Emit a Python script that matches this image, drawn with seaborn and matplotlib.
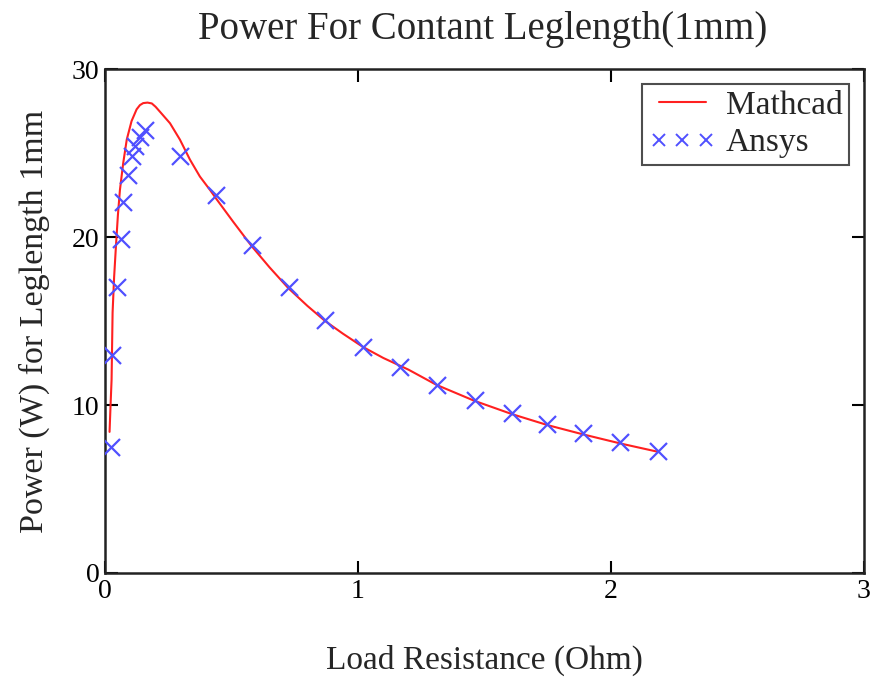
import matplotlib
matplotlib.use("Agg")
import matplotlib.pyplot as plt
import seaborn as sns
import pandas as pd
from matplotlib.lines import Line2D

# Mathcad curve
mathcad_r = [0.018, 0.022, 0.026, 0.030, 0.036, 0.043, 0.051, 0.059, 0.072, 0.086, 0.105,
             0.125, 0.138, 0.151, 0.168, 0.185, 0.200, 0.217, 0.257, 0.296, 0.336, 0.375,
             0.415, 0.441, 0.507, 0.580, 0.650, 0.725, 0.800, 0.870, 0.940, 1.02, 1.1,
             1.2, 1.31, 1.46, 1.61, 1.75, 1.89, 2.04, 2.19]
mathcad_p = [8.4, 10.0, 11.5, 15.5, 17.6, 19.4, 21.3, 22.8, 24.4, 25.8, 26.9,
             27.6, 27.85, 27.97, 28.0, 27.95, 27.75, 27.46, 26.77, 25.8, 24.6, 23.6,
             22.8, 22.25, 20.9, 19.45, 18.2, 16.95, 15.9, 15.0, 14.25, 13.45, 12.8,
             12.1, 11.2, 10.25, 9.45, 8.8, 8.25, 7.7, 7.2]

# Ansys points
ansys_r = [0.022, 0.026, 0.046, 0.062, 0.070, 0.092, 0.105, 0.119, 0.138, 0.158,
           0.296, 0.439, 0.581, 0.727, 0.870, 1.021, 1.166, 1.311, 1.462, 1.607,
           1.746, 1.891, 2.036, 2.187]
ansys_p = [7.52, 12.97, 17.0, 19.86, 22.1, 23.7, 24.8, 25.4, 25.97, 26.37,
           24.8, 22.5, 19.5, 17.0, 15.06, 13.47, 12.24, 11.19, 10.3, 9.5,
           8.87, 8.32, 7.82, 7.28]

x_ticks = [0, 1, 2, 3]
y_ticks = [0, 10, 20, 30]

title = "Power For Contant Leglength(1mm)"
xlabel = "Load Resistance (Ohm)"
ylabel = "Power (W) for Leglength 1mm"

sns.set_theme(style="ticks")
plt.rcParams['font.family'] = ['Liberation Serif', 'DejaVu Serif']

fig = plt.figure(figsize=(8.78, 6.84), dpi=100)
ax = fig.add_axes([105/878, 1 - 573/684, (864-105)/878, (573-69)/684])

df_m = pd.DataFrame({"R": mathcad_r, "P": mathcad_p})
df_a = pd.DataFrame({"R": ansys_r, "P": ansys_p})

sns.lineplot(data=df_m, x="R", y="P", ax=ax, color="#ff2020", linewidth=1.5,
             sort=False, estimator=None)
sns.scatterplot(data=df_a, x="R", y="P", ax=ax, marker="x", color="#5050ff",
                s=150, linewidth=1.6, zorder=3)

ax.set_xlim(0, 3)
ax.set_ylim(0, 30)
ax.set_xticks(x_ticks)
ax.set_yticks(y_ticks)
ax.set_xticklabels([str(v) for v in x_ticks])
ax.set_yticklabels([str(v) for v in y_ticks])
ax.tick_params(direction="in", length=9, width=1.5, top=True, right=True,
               labelsize=20, colors="black", pad=4)
for s in ax.spines.values():
    s.set_linewidth(1.8)
    s.set_color("#222222")

ax.set_xlabel(xlabel, fontsize=24, labelpad=30)
ax.set_ylabel(ylabel, fontsize=24.5, labelpad=16)
fig.text(483/878, 1 - 30/684, title, ha="center", va="center", fontsize=28)

h1 = Line2D([], [], color="#ff2020", linewidth=1.5)
h2 = Line2D([], [], color="#5050ff", marker="x", linestyle="none", markersize=9, markeredgewidth=1.4)
leg = ax.legend([h1, h2], ["Mathcad", "Ansys"], loc="upper right",
                bbox_to_anchor=(849/878, 1 - 84/684), bbox_transform=fig.transFigure,
                numpoints=3, fontsize=24, frameon=True, fancybox=False,
                handlelength=2.0, handletextpad=0.3, borderpad=0.2, labelspacing=0.2,
                borderaxespad=0)
leg.get_frame().set_edgecolor("#222222")
leg.get_frame().set_linewidth(1.5)

fig.savefig("out.png", dpi=100)
